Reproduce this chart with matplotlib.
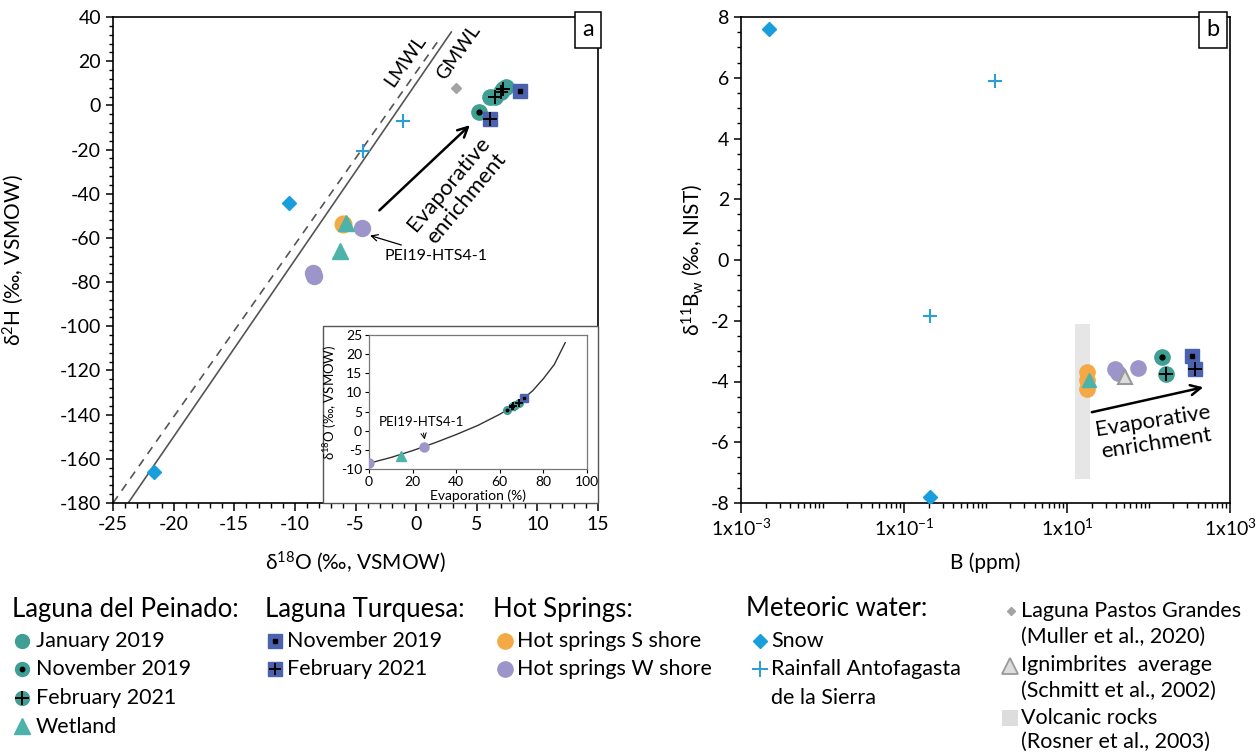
import matplotlib
matplotlib.use("Agg")
import matplotlib.pyplot as plt
from matplotlib.patches import Rectangle
from matplotlib.ticker import MultipleLocator, FixedLocator, NullFormatter

plt.rcParams['font.family'] = ['Lato', 'DejaVu Sans']
plt.rcParams['mathtext.fontset'] = 'custom'
plt.rcParams['mathtext.rm'] = 'Lato'
plt.rcParams['mathtext.it'] = 'Lato:italic'
plt.rcParams['axes.unicode_minus'] = False

# colours
teal = '#3f9f94'
teal_wet = '#4db3aa'
blue = '#4b63ae'
orange = '#f4a946'
purple = '#9c95c9'
snow_c = '#179edb'
rain_c = '#2b9ed3'
grey_c = '#a3a3a3'

# ---- panel a data (d18O, d2H) ----
pei_jan_x = [6.1, 7.4]
pei_jan_y = [3.7, 8.3]
pei_nov_x = [5.2]
pei_nov_y = [-3.0]
pei_feb_x = [6.5, 7.0, 7.2]
pei_feb_y = [3.6, 6.0, 7.4]
wet_x = [-5.8, -6.3]
wet_y = [-53.4, -66.0]
tur_nov_x = [8.6]
tur_nov_y = [6.5]
tur_feb_x = [6.1]
tur_feb_y = [-6.3]
hs_s_x = [-6.0]
hs_s_y = [-53.8]
hs_w_x = [-4.5, -8.5, -8.4]
hs_w_y = [-55.5, -75.8, -77.2]
snow_x = [-10.5, -21.6]
snow_y = [-44.4, -165.8]
rain_x = [-4.4, -1.1]
rain_y = [-20.8, -7.3]
lpg_x = [3.3]
lpg_y = [7.7]
gmwl_x = [-23.75, 2.9]
gmwl_y = [-180, 33.2]
lmwl_x = [-25.0, 2.0]
lmwl_y = [-180, 30.6]

# ---- inset data (evaporation %, d18O) ----
curve_evap = [0, 10, 20, 30, 40, 50, 60, 65, 70, 75, 80, 85, 90]
curve_d18o = [-8.5, -7.0, -5.2, -3.2, -1.0, 1.4, 4.3, 6.0, 8.0, 10.4, 13.6, 17.3, 23.0]
in_hsw_x = [0, 25]
in_hsw_y = [-8.4, -4.3]
in_wet_x = [14.5]
in_wet_y = [-6.6]
in_nov_x = [63.2]
in_nov_y = [5.4]
in_jan_x = [67.0]
in_jan_y = [6.7]
in_feb_x = [66.0, 68.6]
in_feb_y = [6.4, 7.3]
in_tfeb_x = [65.5]
in_tfeb_y = [6.1]
in_tnov_x = [71.3]
in_tnov_y = [8.6]

# ---- panel b data (B ppm, d11B) ----
b_snow_x = [0.0022, 0.21]
b_snow_y = [7.6, -7.8]
b_rain_x = [1.3, 0.21]
b_rain_y = [5.9, -1.85]
b_hss_x = [17.6, 17.6, 17.6]
b_hss_y = [-3.7, -3.95, -4.25]
b_hsw_x = [39, 42, 74]
b_hsw_y = [-3.58, -3.71, -3.55]
b_wet_x = [18.6]
b_wet_y = [-3.94]
b_ign_x = [51]
b_ign_y = [-3.84]
b_nov_x = [147]
b_nov_y = [-3.18]
b_feb_x = [164]
b_feb_y = [-3.74]
b_tnov_x = [340]
b_tnov_y = [-3.15]
b_tfeb_x = [370]
b_tfeb_y = [-3.6]
volc_b = [12.5, 19.0]
volc_d11b = [-7.2, -2.1]


def teal_pts(ax, x, y, kind, ms, color=teal):
    ax.plot(x, y, 'o', color=color, ms=ms, ls='none', zorder=4)
    if kind == 'dot':
        ax.plot(x, y, 'o', color='k', ms=ms * 0.32, ls='none', zorder=5)
    elif kind == 'plus':
        ax.plot(x, y, '+', color='k', ms=ms * 0.95, mew=1.4, ls='none', zorder=5)


def blue_pts(ax, x, y, kind, ms):
    ax.plot(x, y, 's', color=blue, ms=ms, ls='none', zorder=4)
    if kind == 'dot':
        ax.plot(x, y, 's', color='k', ms=ms * 0.35, ls='none', zorder=5)
    else:
        ax.plot(x, y, '+', color='k', ms=ms * 0.95, mew=1.4, ls='none', zorder=5)


fig = plt.figure(figsize=(12.6, 7.52), dpi=100)

# ================= panel a =================
ax = fig.add_axes([113 / 1260, 1 - 503 / 752, 485 / 1260, 486 / 752])
ax.set_xlim(-25, 15)
ax.set_ylim(-180, 40)
ax.plot(gmwl_x, gmwl_y, color='#555555', lw=1.2, zorder=2)
ax.plot(lmwl_x, lmwl_y, color='#555555', lw=1.2, ls=(0, (5, 4)), zorder=2)
ax.text(-0.9, 20, 'LMWL', rotation=55, fontsize=14, ha='center', va='center')
ax.text(3.5, 24, 'GMWL', rotation=55, fontsize=14, ha='center', va='center')

ax.plot(snow_x, snow_y, 'D', color=snow_c, ms=7.5, ls='none', zorder=4)
ax.plot(rain_x, rain_y, '+', color=rain_c, ms=10, mew=1.5, ls='none', zorder=4)
ax.plot(lpg_x, lpg_y, 'D', color=grey_c, ms=5, ls='none', zorder=4)
ax.plot(hs_s_x, hs_s_y, 'o', color=orange, ms=12, ls='none', zorder=3)
ax.plot(hs_w_x, hs_w_y, 'o', color=purple, ms=11.5, ls='none', zorder=3)
ax.plot(wet_x, wet_y, '^', color=teal_wet, ms=11, ls='none', zorder=4)
teal_pts(ax, pei_jan_x, pei_jan_y, 'none', 11)
teal_pts(ax, pei_feb_x, pei_feb_y, 'plus', 11)
teal_pts(ax, pei_nov_x, pei_nov_y, 'dot', 11)
blue_pts(ax, tur_nov_x, tur_nov_y, 'dot', 10)
blue_pts(ax, tur_feb_x, tur_feb_y, 'plus', 10)

ax.annotate('', xy=(4.6, -8.1), xytext=(-3.2, -48.4),
            arrowprops=dict(arrowstyle='->', color='k', lw=1.8, mutation_scale=18))
ax.text(3.4, -39, 'Evaporative\nenrichment', rotation=50, fontsize=16,
        ha='center', va='center', linespacing=1.15)
ax.annotate('PEI19-HTS4-1', xy=(-3.8, -58.9), xytext=(-2.6, -68),
            fontsize=11.5, ha='left', va='center',
            arrowprops=dict(arrowstyle='->', color='k', lw=0.9, shrinkA=2, shrinkB=0))

ax.xaxis.set_major_locator(MultipleLocator(5))
ax.xaxis.set_minor_locator(MultipleLocator(1))
ax.yaxis.set_major_locator(MultipleLocator(20))
ax.yaxis.set_minor_locator(MultipleLocator(4))
ax.tick_params(which='major', length=6, width=1.1, labelsize=14, direction='out')
ax.tick_params(which='minor', length=3.5, width=1.0, direction='out')
ax.tick_params(axis='y', which='major', length=5)
ax.tick_params(axis='y', which='minor', length=3)
for s in ax.spines.values():
    s.set_linewidth(1.2)
ax.set_xlabel('δ$^{18}$O (‰, VSMOW)', fontsize=15, labelpad=12)
ax.set_ylabel('δ$^{2}$H (‰, VSMOW)', fontsize=15, labelpad=24)
ax.text(0.98, 0.995, 'a', transform=ax.transAxes, fontsize=17, ha='center', va='top',
        bbox=dict(boxstyle='square,pad=0.3', fc='white', ec='k', lw=1.1))

# inset frame
frame = Rectangle((323 / 1260, 1 - 503 / 752), 275 / 1260, 177 / 752, transform=fig.transFigure,
                  fc='white', ec='#555555', lw=1.0, zorder=5)
fig.patches.append(frame)
ins = fig.add_axes([369 / 1260, 1 - 469 / 752, 218 / 1260, 134 / 752], zorder=6)
ins.set_xlim(0, 100)
ins.set_ylim(-10, 25)
ins.plot(curve_evap, curve_d18o, color='#333333', lw=1.0, zorder=2)
ins.plot(in_hsw_x, in_hsw_y, 'o', color=purple, ms=6.5, ls='none', zorder=3)
ins.plot(in_wet_x, in_wet_y, '^', color=teal_wet, ms=6.5, ls='none', zorder=3)
teal_pts(ins, in_nov_x, in_nov_y, 'dot', 5.5)
blue_pts(ins, in_tfeb_x, in_tfeb_y, 'plus', 5)
teal_pts(ins, in_jan_x, in_jan_y, 'none', 5.5)
teal_pts(ins, in_feb_x, in_feb_y, 'plus', 5.5)
blue_pts(ins, in_tnov_x, in_tnov_y, 'dot', 5.5)
ins.annotate('PEI19-HTS4-1', xy=(25.8, -3.0), xytext=(24, 2.4), fontsize=9.5,
             ha='center', va='center',
             arrowprops=dict(arrowstyle='->', color='k', lw=0.7, shrinkA=2, shrinkB=2))
ins.xaxis.set_major_locator(MultipleLocator(20))
ins.yaxis.set_major_locator(MultipleLocator(5))
ins.tick_params(labelsize=10, length=3, width=0.8, pad=2)
for s in ins.spines.values():
    s.set_color('#777777')
    s.set_linewidth(0.9)
ins.set_xlabel('Evaporation (%)', fontsize=10, labelpad=1)
ins.set_ylabel('δ$^{18}$O (‰, VSMOW)', fontsize=9.5, labelpad=1)

# ================= panel b =================
bx = fig.add_axes([741 / 1260, 1 - 503 / 752, 489 / 1260, 486 / 752])
bx.set_xscale('log')
bx.set_xlim(1e-3, 1e3)
bx.set_ylim(-8, 8)
bx.fill_between(volc_b, volc_d11b[0], volc_d11b[1], color='#e6e6e6', lw=0, zorder=1)
bx.plot(b_snow_x, b_snow_y, 'D', color=snow_c, ms=7.5, ls='none', zorder=4)
bx.plot(b_rain_x, b_rain_y, '+', color=rain_c, ms=10, mew=1.5, ls='none', zorder=4)
bx.plot(b_hss_x, b_hss_y, 'o', color=orange, ms=11, ls='none', zorder=3)
bx.plot(b_hsw_x, b_hsw_y, 'o', color=purple, ms=11, ls='none', zorder=3)
bx.plot(b_wet_x, b_wet_y, '^', color=teal_wet, ms=10, ls='none', zorder=4)
bx.plot(b_ign_x, b_ign_y, '^', color='#dddddd', mec='#999999', mew=1.5, ms=10, ls='none', zorder=4)
teal_pts(bx, b_nov_x, b_nov_y, 'dot', 11)
teal_pts(bx, b_feb_x, b_feb_y, 'plus', 11)
blue_pts(bx, b_tnov_x, b_tnov_y, 'dot', 10)
blue_pts(bx, b_tfeb_x, b_tfeb_y, 'plus', 10)
bx.annotate('', xy=(508, -4.17), xytext=(18.7, -5.03),
            arrowprops=dict(arrowstyle='->', color='k', lw=1.8, mutation_scale=18))
bx.text(120, -5.68, 'Evaporative\nenrichment', rotation=9, fontsize=16,
        ha='center', va='center', linespacing=1.15)

bx.xaxis.set_major_locator(FixedLocator([1e-3, 1e-1, 1e1, 1e3]))
bx.set_xticklabels(['1x10$^{-3}$', '1x10$^{-1}$', '1x10$^{1}$', '1x10$^{3}$'])
minors = [m * 10.0 ** e for e in range(-3, 3) for m in range(1, 10)
          if not (m == 1 and e % 2 != 0)]
bx.xaxis.set_minor_locator(FixedLocator(minors))
bx.xaxis.set_minor_formatter(NullFormatter())
bx.yaxis.set_major_locator(MultipleLocator(2))
bx.yaxis.set_minor_locator(MultipleLocator(0.5))
bx.tick_params(which='major', length=7, width=1.1, labelsize=14, direction='out')
bx.tick_params(which='minor', length=3.5, width=1.0, direction='out')
bx.tick_params(axis='y', which='major', length=5)
bx.tick_params(axis='y', which='minor', length=3)
for s in bx.spines.values():
    s.set_linewidth(1.2)
bx.set_xlabel('B (ppm)', fontsize=15, labelpad=10)
bx.set_ylabel('δ$^{11}$B$_{\\rm w}$ (‰, NIST)', fontsize=15, labelpad=4)
bx.text(0.965, 0.995, 'b', transform=bx.transAxes, fontsize=17, ha='center', va='top',
        bbox=dict(boxstyle='square,pad=0.3', fc='white', ec='k', lw=1.1))

# ================= legend =================
lg = fig.add_axes([0, 0, 1, 1], zorder=-5)
lg.set_xlim(0, 1260)
lg.set_ylim(752, 0)
lg.axis('off')
fs = 15.5
ft = 18.5


def ltext(x, y, s, size=fs):
    lg.text(x, y, s, fontsize=size, ha='left', va='center')


ltext(12, 609, 'Laguna del Peinado:', ft)
teal_pts(lg, [22], [641], 'none', 10)
ltext(36, 641, 'January 2019')
teal_pts(lg, [22], [669], 'dot', 10)
ltext(36, 669, 'November 2019')
teal_pts(lg, [22], [698], 'plus', 10)
ltext(36, 698, 'February 2021')
lg.plot([22], [726], '^', color=teal_wet, ms=11, ls='none')
ltext(36, 727, 'Wetland')

ltext(265, 609, 'Laguna Turquesa:', ft)
blue_pts(lg, [275], [641], 'dot', 9.5)
ltext(287, 641, 'November 2019')
blue_pts(lg, [275], [669], 'plus', 9.5)
ltext(287, 669, 'February 2021')

ltext(493, 609, 'Hot Springs:', ft)
lg.plot([505], [641], 'o', color=orange, ms=11, ls='none')
ltext(517, 641, 'Hot springs S shore')
lg.plot([505], [669], 'o', color=purple, ms=11, ls='none')
ltext(517, 669, 'Hot springs W shore')

ltext(746, 609, 'Meteoric water:', ft)
lg.plot([760], [641], 'D', color=snow_c, ms=7, ls='none')
ltext(771, 641, 'Snow')
lg.plot([760], [669], '+', color=rain_c, ms=11, mew=1.4, ls='none')
ltext(771, 669, 'Rainfall Antofagasta')
ltext(771, 698, 'de la Sierra')

lg.plot([1011], [611], 'D', color=grey_c, ms=4.5, ls='none')
ltext(1021, 611, 'Laguna Pastos Grandes')
ltext(1021, 637, '(Muller et al., 2020)')
lg.plot([1010], [666], '^', color='#dddddd', mec='#999999', mew=1.3, ms=11, ls='none')
ltext(1021, 665, 'Ignimbrites  average')
ltext(1021, 691, '(Schmitt et al., 2002)')
lg.add_patch(Rectangle((1002, 710), 16, 16, color='#dddddd', lw=0))
ltext(1021, 718, 'Volcanic rocks')
ltext(1021, 742, '(Rosner et al., 2003)')

fig.savefig('out.png', dpi=100)
